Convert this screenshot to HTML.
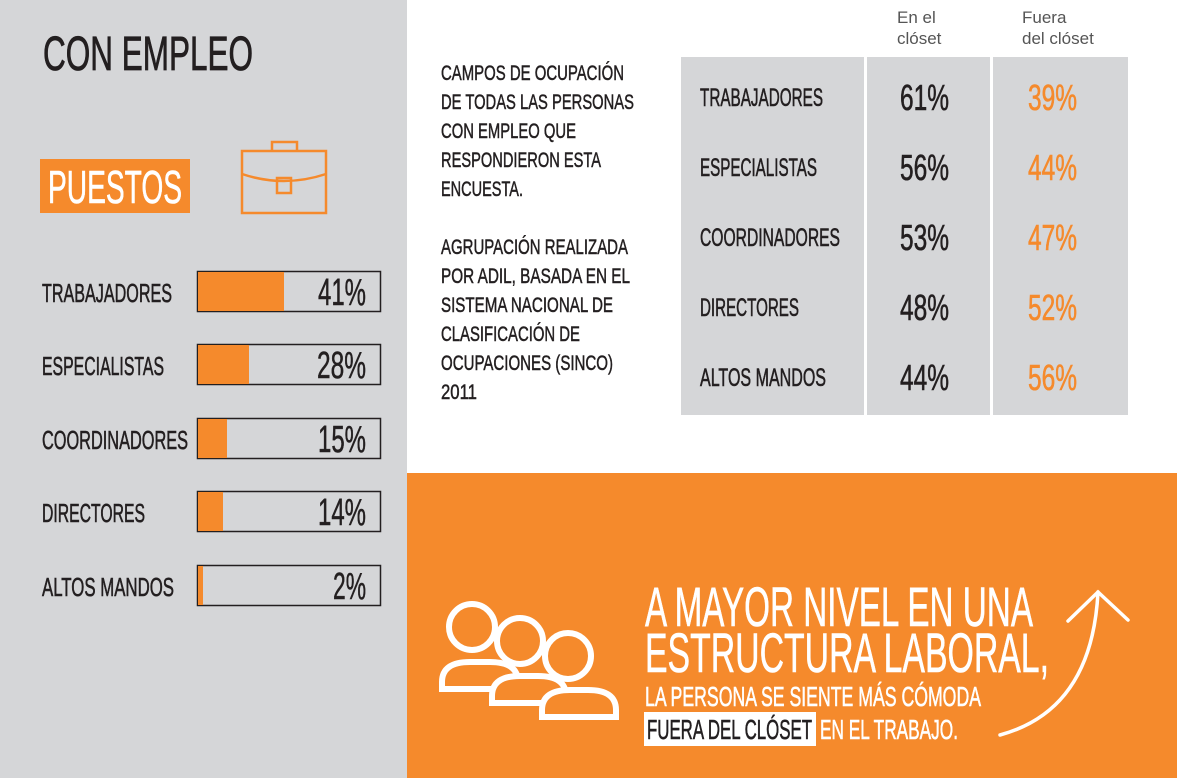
<!DOCTYPE html>
<html><head><meta charset="utf-8"><style>
html,body{margin:0;padding:0;background:#fff;}
svg{display:block;}
text{font-family:"Liberation Sans Narrow","Liberation Sans",sans-serif;}
.b{stroke-width:0.6;}
</style></head><body>
<svg width="1177" height="778" viewBox="0 0 1177 778" xmlns="http://www.w3.org/2000/svg">
<rect x="0" y="0" width="407" height="778" fill="#d5d6d8"/>
<rect x="407" y="0" width="770" height="473" fill="#fff"/>
<rect x="407" y="473" width="770" height="305" fill="#f58a2c"/>

<!-- left -->
<text x="43" y="70" font-size="48" fill="#231f20" stroke="#231f20" stroke-width="0.8" textLength="210" lengthAdjust="spacingAndGlyphs">CON EMPLEO</text>
<rect x="40" y="159" width="150" height="54" fill="#f58a2c"/>
<text x="48" y="203" font-size="46" fill="#fff" stroke="#fff" stroke-width="0.6" textLength="134" lengthAdjust="spacingAndGlyphs">PUESTOS</text>
<g fill="none" stroke="#f58a2c" stroke-width="2.5">
<rect x="242" y="151" width="84" height="62"/>
<path d="M272 151 V142 H297 V151"/>
<path d="M242 174 Q284 188 326 174"/>
<rect x="277" y="178" width="14" height="15"/>
</g>
<g font-size="26" fill="#231f20" stroke="#231f20" stroke-width="0.6">
<text x="42" y="302" textLength="130" lengthAdjust="spacingAndGlyphs">TRABAJADORES</text>
<text x="42" y="375" textLength="122" lengthAdjust="spacingAndGlyphs">ESPECIALISTAS</text>
<text x="42" y="449" textLength="146" lengthAdjust="spacingAndGlyphs">COORDINADORES</text>
<text x="42" y="522" textLength="103" lengthAdjust="spacingAndGlyphs">DIRECTORES</text>
<text x="42" y="596" textLength="132" lengthAdjust="spacingAndGlyphs">ALTOS MANDOS</text>
</g>
<g stroke="#231f20" stroke-width="1.5" fill="#d5d6d8">
<rect x="197.5" y="271.5" width="183" height="40"/>
<rect x="197.5" y="344.5" width="183" height="40"/>
<rect x="197.5" y="418.5" width="183" height="40"/>
<rect x="197.5" y="491.5" width="183" height="40"/>
<rect x="197.5" y="565.5" width="183" height="40"/>
</g>
<g fill="#f58a2c">
<rect x="198" y="272" width="86" height="39"/>
<rect x="198" y="345" width="51" height="39"/>
<rect x="198" y="419" width="29" height="39"/>
<rect x="198" y="492" width="25" height="39"/>
<rect x="198" y="566" width="5" height="39"/>
</g>
<g font-size="38" fill="#231f20" stroke="#231f20" stroke-width="0.5">
<text x="318" y="305" textLength="48" lengthAdjust="spacingAndGlyphs">41%</text>
<text x="317" y="378" textLength="49" lengthAdjust="spacingAndGlyphs">28%</text>
<text x="318" y="452" textLength="48" lengthAdjust="spacingAndGlyphs">15%</text>
<text x="318" y="525" textLength="48" lengthAdjust="spacingAndGlyphs">14%</text>
<text x="333" y="599" textLength="33" lengthAdjust="spacingAndGlyphs">2%</text>
</g>

<!-- middle text -->
<g font-size="21" fill="#231f20" stroke="#231f20" stroke-width="0.5">
<text x="441" y="80" textLength="183" lengthAdjust="spacingAndGlyphs">CAMPOS DE OCUPACIÓN</text>
<text x="441" y="109" textLength="193" lengthAdjust="spacingAndGlyphs">DE TODAS LAS PERSONAS</text>
<text x="441" y="138" textLength="135" lengthAdjust="spacingAndGlyphs">CON EMPLEO QUE</text>
<text x="441" y="167" textLength="160" lengthAdjust="spacingAndGlyphs">RESPONDIERON ESTA</text>
<text x="441" y="196" textLength="82" lengthAdjust="spacingAndGlyphs">ENCUESTA.</text>
<text x="441" y="254" textLength="187" lengthAdjust="spacingAndGlyphs">AGRUPACIÓN REALIZADA</text>
<text x="441" y="283" textLength="189" lengthAdjust="spacingAndGlyphs">POR ADIL, BASADA EN EL</text>
<text x="441" y="312" textLength="172" lengthAdjust="spacingAndGlyphs">SISTEMA NACIONAL DE</text>
<text x="441" y="341" textLength="139" lengthAdjust="spacingAndGlyphs">CLASIFICACIÓN DE</text>
<text x="441" y="370" textLength="172" lengthAdjust="spacingAndGlyphs">OCUPACIONES (SINCO)</text>
<text x="441" y="399" textLength="36" lengthAdjust="spacingAndGlyphs">2011</text>
</g>

<!-- table -->
<g font-size="17" fill="#555">
<text x="897" y="23" style="font-family:'Liberation Sans',sans-serif">En el</text>
<text x="897" y="44" style="font-family:'Liberation Sans',sans-serif">clóset</text>
<text x="1022" y="23" style="font-family:'Liberation Sans',sans-serif">Fuera</text>
<text x="1022" y="44" style="font-family:'Liberation Sans',sans-serif">del clóset</text>
</g>
<rect x="681" y="57" width="447" height="358" fill="#d5d6d8"/>
<rect x="864" y="57" width="3" height="358" fill="#fff"/>
<rect x="990" y="57" width="3" height="358" fill="#fff"/>
<g font-size="25" fill="#231f20" stroke="#231f20" stroke-width="0.6">
<text x="700" y="106" textLength="123" lengthAdjust="spacingAndGlyphs">TRABAJADORES</text>
<text x="700" y="176" textLength="117" lengthAdjust="spacingAndGlyphs">ESPECIALISTAS</text>
<text x="700" y="246" textLength="140" lengthAdjust="spacingAndGlyphs">COORDINADORES</text>
<text x="700" y="316" textLength="99" lengthAdjust="spacingAndGlyphs">DIRECTORES</text>
<text x="700" y="386" textLength="126" lengthAdjust="spacingAndGlyphs">ALTOS MANDOS</text>
</g>
<g font-size="36" fill="#231f20" stroke="#231f20" stroke-width="0.6">
<text x="900" y="110" textLength="49" lengthAdjust="spacingAndGlyphs">61%</text>
<text x="900" y="180" textLength="49" lengthAdjust="spacingAndGlyphs">56%</text>
<text x="900" y="250" textLength="49" lengthAdjust="spacingAndGlyphs">53%</text>
<text x="900" y="320" textLength="49" lengthAdjust="spacingAndGlyphs">48%</text>
<text x="900" y="390" textLength="49" lengthAdjust="spacingAndGlyphs">44%</text>
</g>
<g font-size="36" fill="#f58a2c" stroke="#f58a2c" stroke-width="0.6">
<text x="1028" y="110" textLength="49" lengthAdjust="spacingAndGlyphs">39%</text>
<text x="1028" y="180" textLength="49" lengthAdjust="spacingAndGlyphs">44%</text>
<text x="1028" y="250" textLength="49" lengthAdjust="spacingAndGlyphs">47%</text>
<text x="1028" y="320" textLength="49" lengthAdjust="spacingAndGlyphs">52%</text>
<text x="1028" y="390" textLength="49" lengthAdjust="spacingAndGlyphs">56%</text>
</g>

<!-- bottom -->
<g fill="none" stroke="#fff" stroke-width="6">
<circle cx="472" cy="627" r="23"/>
<circle cx="520" cy="641" r="23"/>
<circle cx="568" cy="656" r="23"/>
<path d="M442 689 V682 Q442 662 470 662 H490 Q518 662 518 682 V689 Z" fill="#f58a2c"/>
<path d="M492 703 V696 Q492 676 520 676 H538 Q566 676 566 696 V703 Z" fill="#f58a2c"/>
<path d="M542 717 V710 Q542 690 570 690 H588 Q616 690 616 710 V717 Z" fill="#f58a2c"/>
</g>
<g fill="#fff" stroke="#fff" stroke-width="0.6">
<text x="645" y="626" font-size="56" textLength="388" lengthAdjust="spacingAndGlyphs">A MAYOR NIVEL EN UNA</text>
<text x="645" y="672" font-size="56" textLength="404" lengthAdjust="spacingAndGlyphs">ESTRUCTURA LABORAL,</text>
<text x="645" y="706" font-size="28" textLength="336" lengthAdjust="spacingAndGlyphs">LA PERSONA SE SIENTE MÁS CÓMODA</text>
<rect x="644" y="712" width="172" height="34" stroke="none"/>
<text x="820" y="739" font-size="28" textLength="138" lengthAdjust="spacingAndGlyphs">EN EL TRABAJO.</text>
</g>
<text x="647" y="739" font-size="28" fill="#231f20" stroke="#231f20" stroke-width="0.6" textLength="165" lengthAdjust="spacingAndGlyphs">FUERA DEL CLÓSET</text>
<g fill="none" stroke="#fff" stroke-width="3.5" stroke-linecap="round">
<path d="M1000 735 Q1092 710 1098 592"/>
<path d="M1068 621 L1098 592 L1128 620"/>
</g>
</svg>
</body></html>
